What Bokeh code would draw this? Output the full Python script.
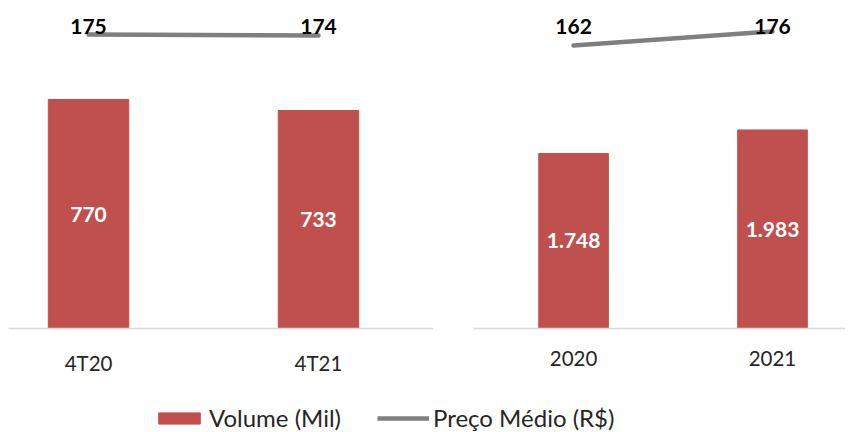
from bokeh.plotting import figure
from bokeh.models import Range1d, FixedTicker, Legend, LegendItem, ColumnDataSource
from bokeh.layouts import column, row
from bokeh.embed import file_html
from bokeh.resources import INLINE
from bokeh.core.properties import value

left_cats = ["4T20", "4T21"]
left_volume = [770, 733]
left_volume_labels = ["770", "733"]
left_price = [175, 174]

right_cats = ["2020", "2021"]
right_volume = [1748, 1983]
right_volume_labels = ["1.748", "1.983"]
right_price = [162, 176]

BAR = "#c0504d"
LINE = "#7f7f7f"
FONT = "Lato"


def panel(cats, vol, vol_labels, price, width, border_left, x_start, x_end, y_end, p_start, p_end):
    idx = list(range(len(cats)))
    p = figure(width=width, height=383, output_backend="svg", toolbar_location=None,
               x_range=Range1d(x_start, x_end), y_range=Range1d(0, y_end),
               min_border_left=border_left, min_border_right=0, min_border_top=8,
               min_border_bottom=55)
    p.extra_y_ranges = {"price": Range1d(p_start, p_end)}
    p.yaxis.visible = False
    p.grid.visible = False
    p.outline_line_color = None
    src = ColumnDataSource(dict(
        x=idx, vol=vol, half=[v / 2 for v in vol], lab=vol_labels,
        price=price, plab=[str(v) for v in price], ly=[y_end * 0.945] * len(idx)))
    p.vbar(x="x", top="vol", width=0.35, source=src, fill_color=BAR, line_color=BAR)
    p.line(x="x", y="price", source=src, y_range_name="price", line_color=LINE,
           line_width=4.5, line_cap="round")
    p.text(x="x", y="half", text="lab", source=src, text_color="white",
           text_font=value(FONT), text_font_style="bold", text_font_size="21px",
           text_align="center", text_baseline="middle")
    p.text(x="x", y="ly", text="plab", source=src, text_color="black",
           text_font=value(FONT), text_font_style="bold", text_font_size="21px",
           text_align="center", text_baseline="middle")
    ax = p.xaxis[0]
    ax.ticker = FixedTicker(ticks=idx)
    ax.major_label_overrides = {i: c for i, c in zip(idx, cats)}
    ax.axis_line_color = "#d9d9d9"
    ax.axis_line_width = 1.5
    ax.major_tick_line_color = None
    ax.minor_tick_line_color = None
    ax.major_label_text_font = FONT
    ax.major_label_text_font_size = "20.5px"
    ax.major_label_text_color = "#262626"
    ax.major_label_standoff = 16
    return p


p1 = panel(left_cats, left_volume, left_volume_labels, left_price, 433, 8,
           -0.348, 1.5, 1076, -119, 201)
p2 = panel(right_cats, right_volume, right_volume_labels, right_price, 412, 40,
           -0.503, 1.367, 3196, -121, 199)

p3 = figure(width=845, height=49, output_backend="svg", toolbar_location=None,
            x_range=Range1d(0, 1), y_range=Range1d(0, 1),
            x_axis_type=None, y_axis_type=None,
            min_border_left=0, min_border_right=0, min_border_top=0, min_border_bottom=0)
p3.grid.visible = False
p3.outline_line_color = None
r_bar = p3.vbar(x=[5], top=[5], width=0.1, fill_color=BAR, line_color=BAR)
r_line = p3.line(x=[5, 6], y=[5, 5], line_color=LINE, line_width=4.5)
legend = Legend(items=[LegendItem(label="Volume (Mil)", renderers=[r_bar]),
                       LegendItem(label="Preço Médio (R$)", renderers=[r_line])],
                orientation="horizontal", location=(153, 0),
                glyph_width=52, glyph_height=14, label_standoff=4, spacing=36,
                padding=0, margin=0, border_line_color=None, background_fill_alpha=0,
                label_text_font=FONT, label_text_font_size="24px",
                label_text_color="#262626")
p3.add_layout(legend)

layout = column(row(p1, p2), p3)
open("out.html", "w").write(file_html(layout, INLINE))
